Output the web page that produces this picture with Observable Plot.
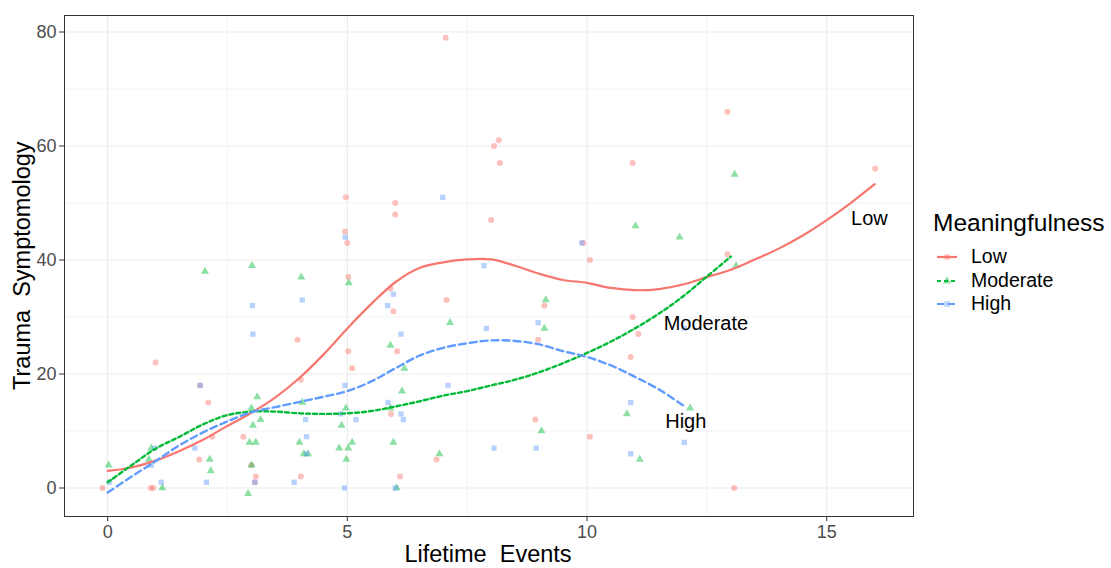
<!DOCTYPE html>
<html>
<head>
<meta charset="utf-8">
<script src="https://cdn.jsdelivr.net/npm/d3@7"></script>
<script src="https://cdn.jsdelivr.net/npm/@observablehq/plot@0.6"></script>
<style>
  html, body { margin: 0; padding: 0; background: #fff; }
  #wrap { position: relative; width: 1111px; height: 568px; font-family: "Liberation Sans", Arial, sans-serif; overflow: hidden; }
  #wrap svg.plot { position: absolute; left: 0; top: 0; }
  .t { position: absolute; white-space: pre; color: #000; }
</style>
</head>
<body>
<div id="wrap"></div>
<script>
// ---- data ----
const groups = ["Low", "Moderate", "High"];
const colors = ["#F8766D", "#00BA38", "#619CFF"];
const symbols = ["circle", "triangle", "square"];
const xTicks = [0, 5, 10, 15];
const yTicks = [0, 20, 40, 60, 80];

const lowX = [-0.11,0.9,0.95,1.0,1.91,1.93,2.1,2.18,2.83,3.0,3.09,3.07,3.96,4.03,4.03,4.97,4.95,5.0,5.02,5.02,5.1,5.9,5.96,6.0,6.0,6.04,5.91,6.1,6.86,7.05,7.07,8.0,8.06,8.16,8.18,8.92,8.98,9.11,9.92,10.06,10.06,10.95,10.95,11.07,10.91,12.93,12.93,13.07,16.01];
const lowY = [0,0,0,22,5,18,15,9,9,4,2,1,26,19,2,51,45,43,37,24,21,35,31,50,48,24,13,2,5,79,33,47,60,61,57,12,26,32,43,40,9,57,30,27,23,66,41,0,56];

const modX = [0.02,0.91,0.86,1.14,2.03,2.13,2.15,2.93,3.01,3.0,3.12,3.03,3.19,2.96,3.09,3.0,4.04,4.06,4.0,4.09,4.18,5.03,4.97,4.88,5.1,4.83,5.02,4.98,5.9,6.19,6.14,5.9,5.96,6.03,6.92,7.14,9.14,9.11,9.05,10.83,11.01,11.1,11.93,12.15,13.08,13.11];
const modY = [4,7,5,0,38,5,3,-1,39,14,16,11,12,8,8,4,37,15,8,6,6,36,14,11,8,7,7,5,25,21,17,14,8,0,6,29,33,28,10,13,46,5,44,14,55,39];

const highX = [0.04,0.91,0.98,1.12,1.82,1.93,2.06,3.02,3.03,3.07,3.89,4.06,4.13,4.15,4.15,4.86,4.95,4.96,4.94,5.18,5.96,5.84,6.12,5.85,6.12,6.17,6.0,6.99,7.1,7.85,7.9,8.06,8.94,8.98,9.89,10.91,10.91,12.03,12.03];
const highY = [1,4,7,1,7,18,1,32,27,1,1,33,12,9,6,13,18,44,0,12,34,32,27,15,13,12,0,51,18,39,28,7,7,29,43,15,6,28,8];

const lowCurveX = [0,0.5,1,1.5,2,2.5,3,3.5,4,4.5,5,5.5,6,6.5,7,7.5,8,8.5,9,9.5,10,10.5,11,11.5,12,12.5,13,13.5,14,14.5,15,15.5,16];
const lowCurveY = [3.0,3.6,4.8,6.5,8.5,10.9,13.2,15.9,19.3,23.4,28.0,32.3,36.1,38.6,39.6,40.1,40.1,39.0,37.6,36.5,36.0,35.1,34.7,34.9,35.7,37.0,38.3,40.1,42.0,44.3,47.0,50.0,53.3];

const modCurveX = [0,0.5,1,1.5,2,2.5,3,3.5,4,4.5,5,5.5,6,6.5,7,7.5,8,8.5,9,9.5,10,10.5,11,11.5,12,12.5,13];
const modCurveY = [1.0,4.0,6.9,9.0,11.2,12.8,13.4,13.4,13.1,13.0,13.1,13.5,14.3,15.2,16.2,17.0,18.0,19.0,20.3,21.9,23.7,25.7,28.0,30.6,33.6,37.1,40.6];

const highCurveX = [0,0.5,1,1.5,2,2.5,3,3.5,4,4.5,5,5.5,6,6.5,7,7.5,8,8.5,9,9.5,10,10.5,11,11.5,12];
const highCurveY = [-0.8,2.0,4.7,7.5,9.8,11.7,13.3,14.2,15.1,16.0,17.0,18.7,21.0,23.2,24.6,25.4,25.9,25.8,25.2,24.0,23.0,21.5,19.5,17.3,14.5];

const labelText = ["Low", "Moderate", "High"];
const labelX = [15.89, 12.48, 12.06];
const labelY = [47.2, 28.8, 11.7];

// ---- build tables ----
const points = [
  ...lowX.map((x, i) => ({x, y: lowY[i], g: "Low"})),
  ...modX.map((x, i) => ({x, y: modY[i], g: "Moderate"})),
  ...highX.map((x, i) => ({x, y: highY[i], g: "High"}))
];
const lowCurve = lowCurveX.map((x, i) => ({x, y: lowCurveY[i]}));
const modCurve = modCurveX.map((x, i) => ({x, y: modCurveY[i]}));
const highCurve = highCurveX.map((x, i) => ({x, y: highCurveY[i]}));
const labels = labelText.map((t, i) => ({t, x: labelX[i], y: labelY[i]}));

const chart = Plot.plot({
  width: 1111,
  height: 568,
  marginLeft: 64,
  marginRight: 198,
  marginTop: 15,
  marginBottom: 52,
  style: {fontFamily: "'Liberation Sans', Arial, sans-serif", background: "transparent"},
  x: {domain: [-0.9, 16.81], label: null},
  y: {domain: [-5, 82.9], label: null},
  color: {domain: groups, range: colors},
  symbol: {domain: groups, range: symbols},
  marks: [
    Plot.gridX([2.5, 7.5, 12.5], {stroke: "#EBEBEB", strokeOpacity: 1, strokeWidth: 0.6}),
    Plot.gridY([10, 30, 50, 70], {stroke: "#EBEBEB", strokeOpacity: 1, strokeWidth: 0.6}),
    Plot.gridX(xTicks, {stroke: "#EBEBEB", strokeOpacity: 1, strokeWidth: 1.1}),
    Plot.gridY(yTicks, {stroke: "#EBEBEB", strokeOpacity: 1, strokeWidth: 1.1}),
    Plot.dot(points, {x: "x", y: "y", fill: "g", symbol: "g", r: 3, fillOpacity: 0.45, stroke: "none"}),
    Plot.line(lowCurve, {x: "x", y: "y", stroke: colors[0], strokeWidth: 2.2, curve: "catmull-rom"}),
    Plot.line(modCurve, {x: "x", y: "y", stroke: colors[1], strokeWidth: 2.4, strokeDasharray: "4,3", curve: "catmull-rom"}),
    Plot.line(highCurve, {x: "x", y: "y", stroke: colors[2], strokeWidth: 2.4, strokeDasharray: "7,4", curve: "catmull-rom"}),
    Plot.text(labels, {x: "x", y: "y", text: "t", fontSize: 20, fill: "#000", textAnchor: "middle"}),
    Plot.frame({stroke: "#333333", strokeWidth: 1}),
    Plot.axisX(xTicks, {tickSize: 5, tickPadding: 4, fontSize: 18, label: null}),
    Plot.axisY(yTicks, {tickSize: 5, tickPadding: 3, fontSize: 18, label: null})
  ]
});
chart.classList.add("plot");
chart.querySelectorAll('g[aria-label$="-axis tick"]').forEach(g => g.setAttribute("stroke", "#333333"));
chart.querySelectorAll('g[aria-label$="-axis tick label"]').forEach(g => g.setAttribute("fill", "#4D4D4D"));

const wrap = document.getElementById("wrap");
wrap.appendChild(chart);

// axis titles
const xt = document.createElement("div");
xt.className = "t";
xt.textContent = "Lifetime  Events";
xt.style.cssText += "font-size:23.5px; top:541px;";
wrap.appendChild(xt);
const xtw = xt.getBoundingClientRect().width;
xt.style.left = (488 - xtw / 2) + "px";

const yt = document.createElement("div");
yt.className = "t";
yt.textContent = "Trauma  Symptomology";
yt.style.cssText += "font-size:23.5px; transform-origin: 0 0; transform: rotate(-90deg);";
wrap.appendChild(yt);
const ytw = yt.offsetWidth;
yt.style.left = "9px";
yt.style.top = (265 + ytw / 2) + "px";

// legend
const lt = document.createElement("div");
lt.className = "t";
lt.textContent = "Meaningfulness";
lt.style.cssText += "font-size:24.5px; left:933px; top:209px;";
wrap.appendChild(lt);

const keyY = [257, 281, 304];
const dashes = ["none", "4,3", "7,4"];
groups.forEach((g, i) => {
  const ns = "http://www.w3.org/2000/svg";
  const s = document.createElementNS(ns, "svg");
  s.setAttribute("width", 24); s.setAttribute("height", 20);
  s.style.position = "absolute";
  s.style.left = "935px";
  s.style.top = (keyY[i] - 10) + "px";
  const ln = document.createElementNS(ns, "line");
  ln.setAttribute("x1", 2); ln.setAttribute("x2", 22); ln.setAttribute("y1", 10); ln.setAttribute("y2", 10);
  ln.setAttribute("stroke", colors[i]); ln.setAttribute("stroke-width", 2.2);
  if (dashes[i] !== "none") ln.setAttribute("stroke-dasharray", dashes[i]);
  s.appendChild(ln);
  const sym = d3.symbol().type([d3.symbolCircle, d3.symbolTriangle, d3.symbolSquare][i]).size(30)();
  const p = document.createElementNS(ns, "path");
  p.setAttribute("d", sym); p.setAttribute("transform", "translate(12,10)");
  p.setAttribute("fill", colors[i]); p.setAttribute("fill-opacity", 0.45);
  s.appendChild(p);
  wrap.appendChild(s);
  const tx = document.createElement("div");
  tx.className = "t";
  tx.textContent = g;
  tx.style.cssText += "font-size:19.5px; left:971px; top:" + (keyY[i] - 12) + "px;";
  wrap.appendChild(tx);
});
</script>
</body>
</html>
